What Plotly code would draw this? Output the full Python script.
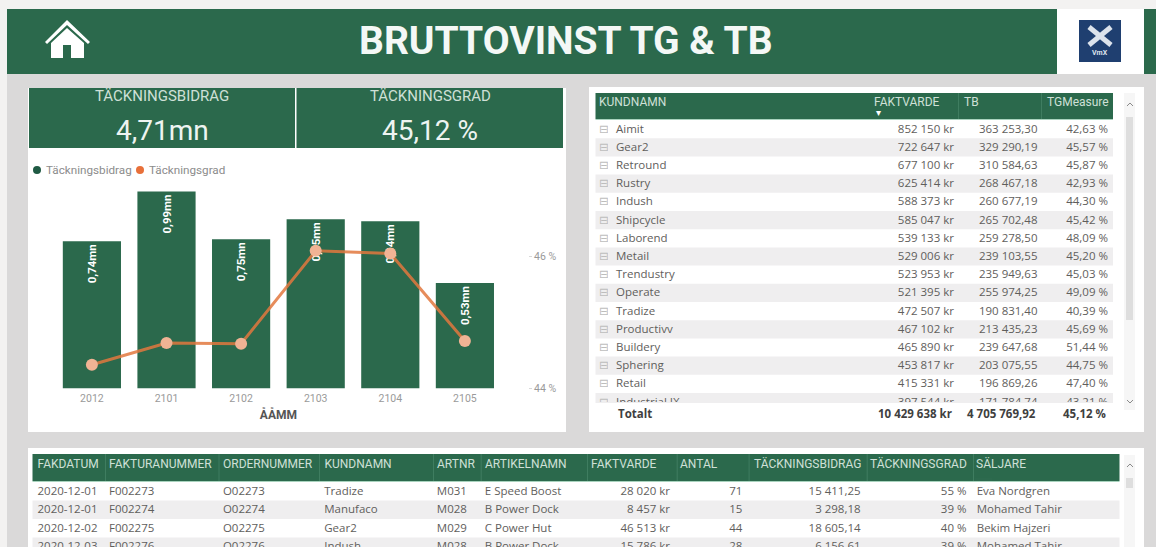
import plotly.graph_objects as go

W, H = 1156, 547
GREEN = "#2B694C"
PANEL = "#DAD9D9"
OUTER = "#F3F2F1"
HEAD_TXT = "#CFE0D7"
CELL_TXT = "#5F5E5C"
ALT = "#EFEEEF"
CLEAR = "rgba(0,0,0,0)"
BODY_FONT = "Open Sans"
HEAD_FONT = "Roboto"

# combo chart
months = ["2012", "2101", "2102", "2103", "2104", "2105"]
contribution = [0.74, 0.99, 0.75, 0.85, 0.84, 0.53]
contribution_labels = ["0,74mn", "0,99mn", "0,75mn", "0,85mn", "0,84mn", "0,53mn"]
margin_rate = [44.36, 44.69, 44.68, 46.09, 46.05, 44.72]
margin_ticks = [44, 46]
margin_tick_labels = ["44 %", "46 %"]

# customer table
cust_headers = ["KUNDNAMN", "FAKTVARDE", "TB", "TGMeasure"]
cust_names = ["Aimit", "Gear2", "Retround", "Rustry", "Indush", "Shipcycle", "Laborend", "Metail",
              "Trendustry", "Operate", "Tradize", "Productivv", "Buildery", "Sphering", "Retail", "Industrial IX"]
cust_sales = ["852 150 kr", "722 647 kr", "677 100 kr", "625 414 kr", "588 373 kr", "585 047 kr", "539 133 kr",
              "529 006 kr", "523 953 kr", "521 395 kr", "472 507 kr", "467 102 kr", "465 890 kr", "453 817 kr",
              "415 331 kr", "397 544 kr"]
cust_tb = ["363 253,30", "329 290,19", "310 584,63", "268 467,18", "260 677,19", "265 702,48", "259 278,50",
           "239 103,55", "235 949,63", "255 974,25", "190 831,40", "213 435,23", "239 647,68", "203 075,55",
           "196 869,26", "171 784,74"]
cust_tg = ["42,63 %", "45,57 %", "45,87 %", "42,93 %", "44,30 %", "45,42 %", "48,09 %", "45,20 %",
           "45,03 %", "49,09 %", "40,39 %", "45,69 %", "51,44 %", "44,75 %", "47,40 %", "43,21 %"]
cust_total = ["Totalt", "10 429 638 kr", "4 705 769,92", "45,12 %"]

# invoice table
inv_headers = ["FAKDATUM", "FAKTURANUMMER", "ORDERNUMMER", "KUNDNAMN", "ARTNR", "ARTIKELNAMN", "FAKTVARDE",
               "ANTAL", "TÄCKNINGSBIDRAG", "TÄCKNINGSGRAD", "SÄLJARE"]
inv_date = ["2020-12-01", "2020-12-01", "2020-12-02", "2020-12-03"]
inv_invoice = ["F002273", "F002274", "F002275", "F002276"]
inv_order = ["O02273", "O02274", "O02275", "O02276"]
inv_customer = ["Tradize", "Manufaco", "Gear2", "Indush"]
inv_artnr = ["M031", "M028", "M029", "M028"]
inv_article = ["E Speed Boost", "B Power Dock", "C Power Hut", "B Power Dock"]
inv_sales = ["28 020 kr", "8 457 kr", "46 513 kr", "15 786 kr"]
inv_qty = ["71", "15", "44", "28"]
inv_tb = ["15 411,25", "3 298,18", "18 605,14", "6 156,61"]
inv_tg = ["55 %", "39 %", "40 %", "39 %"]
inv_seller = ["Eva Nordgren", "Mohamed Tahir", "Bekim Hajzeri", "Mohamed Tahir"]


def px(x):
    return x / W


def py(y):
    return 1 - y / H


def rect(x0, y0, x1, y1, color):
    return dict(type="rect", xref="paper", yref="paper", x0=px(x0), x1=px(x1), y0=py(y0), y1=py(y1),
                fillcolor=color, line_width=0, layer="below")


def poly(points, fill=None, line=None, width=1):
    d = "M" + " L".join(f"{px(a):.5f},{py(b):.5f}" for a, b in points)
    if fill:
        d += " Z"
    return dict(type="path", xref="paper", yref="paper", path=d, fillcolor=fill or CLEAR,
                line=dict(color=line or CLEAR, width=width if line else 0), layer="above")


def text(x, y, s, size, color, family=HEAD_FONT, anchor="center", bold=False):
    return dict(xref="paper", yref="paper", x=px(x), y=py(y), text=f"<b>{s}</b>" if bold else s,
                showarrow=False, xanchor=anchor, yanchor="middle", align=anchor,
                font=dict(size=size, color=color, family=family))


def widths(edges):
    return [b - a for a, b in zip(edges, edges[1:])]


def header_table(values, edges, top, bottom):
    return go.Table(
        domain=dict(x=[px(edges[0]), px(edges[-1])], y=[py(bottom), py(top)]),
        columnwidth=widths(edges),
        header=dict(values=values, height=bottom - top, align="left", fill_color=CLEAR,
                    line=dict(color=CLEAR, width=0),
                    font=dict(size=12, color=HEAD_TXT, family=HEAD_FONT)),
        cells=dict(values=[[] for _ in values], fill_color=CLEAR, line=dict(color=CLEAR, width=0)))


def body_table(values, edges, top, bottom, row_h, align, colors=None, families=None, size=11.5):
    return go.Table(
        domain=dict(x=[px(edges[0]), px(edges[-1])], y=[py(bottom), py(top)]),
        columnwidth=widths(edges),
        header=dict(values=[""] * len(values), height=0, fill_color=CLEAR, line=dict(color=CLEAR, width=0)),
        cells=dict(values=values, height=row_h, align=align, fill_color=CLEAR, line=dict(color=CLEAR, width=0),
                   font=dict(size=size, color=colors or CELL_TXT, family=families or BODY_FONT)))


shapes = [
    rect(7, 74, W, H, PANEL),
    rect(7, 9, 1057, 74, GREEN),
    rect(1057, 9, 1144, 74, "#FFFFFF"),
    rect(1144, 9, W, 74, GREEN),
    rect(28, 88, 566, 432, "#FFFFFF"),
    rect(29, 88, 295, 148, GREEN),
    rect(296.5, 88, 563, 148, GREEN),
    rect(589, 87, 1144, 432, "#FFFFFF"),
    rect(28, 448, 1144, H, "#FFFFFF"),
    # table header bars
    rect(595.5, 93, 1113, 119, GREEN),
    rect(595.5, 119, 1113, 120, "#A9D3BE"),
    rect(32.5, 454, 1119.5, 481, GREEN),
    rect(32.5, 481, 1119.5, 482, "#A9D3BE"),
    # scroll tracks
    rect(1124, 93, 1135, 410, "#F6F6F6"),
    rect(1126, 117, 1133, 320, "#DEDEDE"),
    rect(1124, 455, 1135, H, "#F6F6F6"),
    rect(1126, 478, 1133, 488, "#DEDEDE"),
    # legend dots
    dict(type="circle", xref="paper", yref="paper", x0=px(33), x1=px(41), y0=py(174), y1=py(166),
         fillcolor="#1F5A43", line_width=0),
    dict(type="circle", xref="paper", yref="paper", x0=px(136), x1=px(144), y0=py(174), y1=py(166),
         fillcolor="#E8703A", line_width=0),
    # home icon
    poly([(45, 42), (67, 20), (90, 42), (88, 44), (67, 25), (47, 44)], fill="#FFFFFF"),
    poly([(67, 28), (84, 43), (84, 58), (71, 58), (71, 45), (63, 45), (63, 58), (51, 58), (51, 43)], fill="#FFFFFF"),
    # logo
    dict(type="rect", xref="paper", yref="paper", x0=px(1079), x1=px(1121), y0=py(20), y1=py(62),
         fillcolor="#1F3F70", line_width=0),
    poly([(1089, 27), (1111, 45)], line="#DCE3EC", width=5),
    poly([(1111, 27), (1089, 45)], line="#DCE3EC", width=5),
    # scroll chevrons
    poly([(1127, 106), (1130, 103), (1133, 106)], line="#8A8A8A", width=1),
    poly([(1127, 400), (1130, 403), (1133, 400)], line="#8A8A8A", width=1),
    poly([(1127, 467), (1130, 464), (1133, 467)], line="#8A8A8A", width=1),
]

# header dividers
for xd in [958, 1041]:
    shapes.append(rect(xd, 93, xd + 1, 119, "#3F7D60"))
for xd in [105, 218.5, 319, 433, 480.7, 587, 676.7, 748.6, 866.7, 973]:
    shapes.append(rect(xd, 454, xd + 1, 481, "#3F7D60"))
# zebra rows, cut where the total row and page begin
for i in range(len(cust_names)):
    if i % 2:
        top = 120 + i * 18.2
        shapes.append(rect(595.5, top, 1113, min(top + 18.2, 403), ALT))
for i in range(len(inv_date)):
    if i % 2:
        top = 482 + i * 18.5
        shapes.append(rect(32.5, top, 1119.5, min(top + 18.5, H), ALT))

annotations = [
    text(566, 41, "BRUTTOVINST TG &amp; TB", 39, "#F4F8F6", bold=True),
    text(1100, 53, "VmX", 7, "#DCE3EC", bold=True),
    text(162, 96, "TÄCKNINGSBIDRAG", 15, "#CFE0D7"),
    text(430, 96, "TÄCKNINGSGRAD", 15, "#CFE0D7"),
    text(162, 130, "4,71mn", 28, "#EEF4F1"),
    text(430, 130, "45,12 %", 28, "#EEF4F1"),
    text(44, 170, "Täckningsbidrag", 11.7, "#8C8C8C", anchor="left"),
    text(147, 170, "Täckningsgrad", 11.7, "#8C8C8C", anchor="left"),
    text(878, 113, "▾", 10, "#FFFFFF"),
    text(616, 413, cust_total[0], 11.5, "#3F3F3F", BODY_FONT, "left", True),
    text(954, 413, cust_total[1], 11.5, "#3F3F3F", BODY_FONT, "right", True),
    text(1037.5, 413, cust_total[2], 11.5, "#3F3F3F", BODY_FONT, "right", True),
    text(1108, 413, cust_total[3], 11.5, "#3F3F3F", BODY_FONT, "right", True),
]

fig = go.Figure()

fig.add_trace(go.Bar(
    x=months, y=contribution, text=contribution_labels, marker=dict(color=GREEN, line_width=0),
    width=0.78, textposition="inside", insidetextanchor="end", textangle=-90,
    textfont=dict(size=11.5, color="#FFFFFF", family=HEAD_FONT, weight="bold"),
    constraintext="none", cliponaxis=False, name="Täckningsbidrag", showlegend=False, xaxis="x", yaxis="y"))

fig.add_trace(go.Scatter(
    x=months, y=margin_rate, mode="lines+markers",
    line=dict(color="rgba(226,120,62,0.85)", width=3),
    marker=dict(size=12, color="#F0B394", line_width=0),
    name="Täckningsgrad", showlegend=False, xaxis="x", yaxis="y2"))

n = len(cust_names)
fig.add_trace(header_table(cust_headers, [591, 866, 956, 1039, 1113], 89, 115))
fig.add_trace(body_table(
    [["⊟"] * n, cust_names, cust_sales, cust_tb, cust_tg],
    [591, 608, 880, 962, 1045.5, 1116], 116, 403, 18.2,
    ["left", "left", "right", "right", "right"],
    colors=[["#BDBDBD"] * n] + [[CELL_TXT] * n] * 4,
    families=["DejaVu Sans", BODY_FONT, BODY_FONT, BODY_FONT, BODY_FONT]))

fig.add_trace(header_table(inv_headers, [29.5, 101, 215, 316.4, 429, 477, 583, 672, 746, 862, 968, 1119.5], 451, 478))
fig.add_trace(body_table(
    [inv_date, inv_invoice, inv_order, inv_customer, inv_artnr, inv_article, inv_sales, inv_qty, inv_tb, inv_tg],
    [29.5, 101, 215, 316.4, 429, 477, 590, 678.4, 750.7, 869, 975], 478, H, 18.5,
    ["left"] * 6 + ["right"] * 4))
fig.add_trace(body_table([inv_seller], [968.7, 1119.5], 478, H, 18.5, ["left"]))

fig.update_layout(
    width=W, height=H, margin=dict(l=0, r=0, t=0, b=0, pad=0), autosize=False,
    paper_bgcolor=OUTER, plot_bgcolor=CLEAR, showlegend=False,
    shapes=shapes, annotations=annotations,
    font=dict(family=BODY_FONT),
    xaxis=dict(domain=[px(54.6), px(502.2)], type="category", showgrid=False, showline=False, ticks="",
               anchor="y", automargin=False, tickfont=dict(size=10.5, color="#9A9A9A", family=HEAD_FONT),
               ticklabelstandoff=2,
               title=dict(text="<b>ÅÅMM</b>", font=dict(size=12, color="#555555", family=HEAD_FONT), standoff=6)),
    yaxis=dict(domain=[py(388.5), py(185)], range=[0, 1.0226], visible=False, automargin=False),
    yaxis2=dict(domain=[py(388.5), py(185)], range=[44, 47.09], overlaying="y", side="right", anchor="free",
                position=px(528), tickmode="array", tickvals=margin_ticks, ticktext=margin_tick_labels,
                showgrid=False, showline=False, zeroline=False, automargin=False,
                ticks="outside", ticklen=3, tickcolor="#D8D8D8",
                tickfont=dict(size=10.5, color="#9A9A9A", family=HEAD_FONT)),
)

fig.write_html("out.html", config={"displayModeBar": False},
               post_script="document.body.style.margin='0';document.documentElement.style.overflow='hidden';")
